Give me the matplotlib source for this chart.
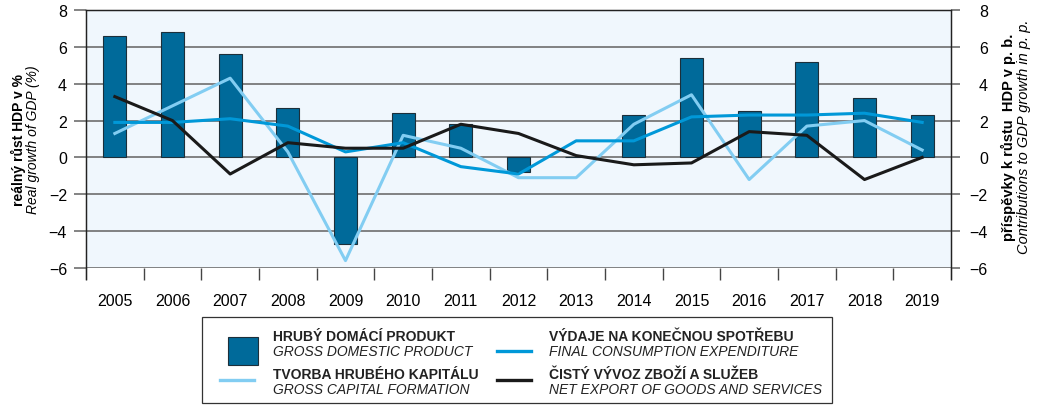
import numpy as np
import matplotlib
matplotlib.use("Agg")
import matplotlib.pyplot as plt
from matplotlib import patches
from matplotlib.lines import Line2D

plt.rcParams['font.family'] = ['Liberation Sans', 'DejaVu Sans']

years = [str(y) for y in range(2005, 2020)]
gdp = [6.6, 6.8, 5.6, 2.7, -4.7, 2.4, 1.8, -0.8, 0.0, 2.3, 5.4, 2.5, 5.2, 3.2, 2.3]
consumption = [1.9, 1.9, 2.1, 1.7, 0.3, 0.8, -0.5, -0.9, 0.9, 0.9, 2.2, 2.3, 2.3, 2.4, 1.9]
capital = [1.3, 2.8, 4.3, 0.3, -5.6, 1.2, 0.5, -1.1, -1.1, 1.8, 3.4, -1.2, 1.7, 2.0, 0.4]
net_export = [3.3, 2.0, -0.9, 0.8, 0.5, 0.5, 1.8, 1.3, 0.1, -0.4, -0.3, 1.4, 1.2, -1.2, 0.0]
yticks = list(range(-6, 9, 2))

C_BAR = '#006a9a'
C_CONS = '#0098d8'
C_CAP = '#82cdf2'
C_NET = '#1a1a1a'
C_GRID = '#6e6e6e'

fig = plt.figure(figsize=(10.38, 4.06), dpi=100)
ax = fig.add_axes([86 / 1038, 1 - 269 / 406, 865 / 1038, 258 / 406])
ax.set_facecolor('#f0f7fd')
x = np.arange(len(years))

ax.bar(x, gdp, width=0.4, color=C_BAR, edgecolor='#1c2f3a', linewidth=0.8, zorder=3)

ax2 = ax.twinx()
ax2.plot(x, capital, color=C_CAP, lw=2.2, zorder=4)
ax2.plot(x, consumption, color=C_CONS, lw=2.2, zorder=5)
ax2.plot(x, net_export, color=C_NET, lw=2.2, zorder=6)

for a in (ax, ax2):
    a.set_ylim(-6, 8)
    a.set_yticks(yticks)
    a.set_xlim(-0.5, len(years) - 0.5)
    for s in a.spines.values():
        s.set_color('#222222')
        s.set_linewidth(0.9)
    a.spines['bottom'].set_visible(False)

for v in range(-6, 8, 2):
    ax.axhline(v, color=C_GRID, lw=1.2, zorder=1)

labels = [str(v).replace('-', '\u2212') for v in yticks]
ax.tick_params(axis='y', length=8.6, width=1.2, color=C_GRID, labelsize=11.5, pad=5)
ax.set_yticklabels(labels)
ax2.tick_params(axis='y', length=6.5, width=1.2, color=C_GRID, labelsize=11.5, pad=20)
ax2.set_yticklabels(labels, ha='right')

ax.set_xticks(x)
ax.set_xticklabels(years, fontsize=11.5)
ax.tick_params(axis='x', which='major', length=0, pad=18)
ax.set_xticks(np.arange(-0.5, len(years)), minor=True)
ax.tick_params(axis='x', which='minor', length=8.6, width=1.0, color='#444444')

ax.spines['left'].set_bounds(-6.6, 8)
ax2.spines['right'].set_bounds(-6.6, 8)

# axis titles
fig.text(18 / 1038, 1 - 140 / 406, 'reálný růst HDP v %', rotation=90, fontsize=10,
         fontweight='bold', ha='center', va='center')
fig.text(33 / 1038, 1 - 140 / 406, 'Real growth of GDP (%)', rotation=90, fontsize=10,
         style='italic', ha='center', va='center')
fig.text(1008 / 1038, 1 - 137 / 406, 'příspěvky k růstu  HDP v p. b.', rotation=90, fontsize=10.5,
         fontweight='bold', ha='center', va='center')
fig.text(1024 / 1038, 1 - 137 / 406, 'Contributions to GDP growth in p. p.', rotation=90, fontsize=10.5,
         style='italic', ha='center', va='center')


# legend box
def fy(py):
    return 1 - py / 406


def fx(px):
    return px / 1038


fig.patches.append(patches.Rectangle((fx(202), fy(404)), fx(630), 86 / 406, transform=fig.transFigure,
                                     fill=False, edgecolor='#333333', lw=0.9))
fig.patches.append(patches.Rectangle((fx(228), fy(366)), fx(30), 28 / 406, transform=fig.transFigure,
                                     facecolor=C_BAR, edgecolor='#1c2f3a', lw=0.8))
fig.lines.append(Line2D([fx(220), fx(254)], [fy(381), fy(381)], transform=fig.transFigure,
                        color=C_CAP, lw=2.4))
fig.lines.append(Line2D([fx(497), fx(531)], [fy(352), fy(352)], transform=fig.transFigure,
                        color=C_CONS, lw=2.4))
fig.lines.append(Line2D([fx(497), fx(531)], [fy(381), fy(381)], transform=fig.transFigure,
                        color=C_NET, lw=2.4))

entries = [
    (273, 'HRUBÝ DOMÁCÍ PRODUKT', 'GROSS DOMESTIC PRODUCT', 337),
    (273, 'TVORBA HRUBÉHO KAPITÁLU', 'GROSS CAPITAL FORMATION', 375),
    (549, 'VÝDAJE NA KONEČNOU SPOTŘEBU', 'FINAL CONSUMPTION EXPENDITURE', 337),
    (549, 'ČISTÝ VÝVOZ ZBOŽÍ A SLUŽEB', 'NET EXPORT OF GOODS AND SERVICES', 375),
]
for px, cz, en, py in entries:
    fig.text(fx(px), fy(py), cz, fontsize=10, fontweight='bold', ha='left', va='center', color='#222222')
    fig.text(fx(px), fy(py + 15), en, fontsize=10, style='italic', ha='left', va='center', color='#222222')

fig.savefig('out.png', dpi=100)
